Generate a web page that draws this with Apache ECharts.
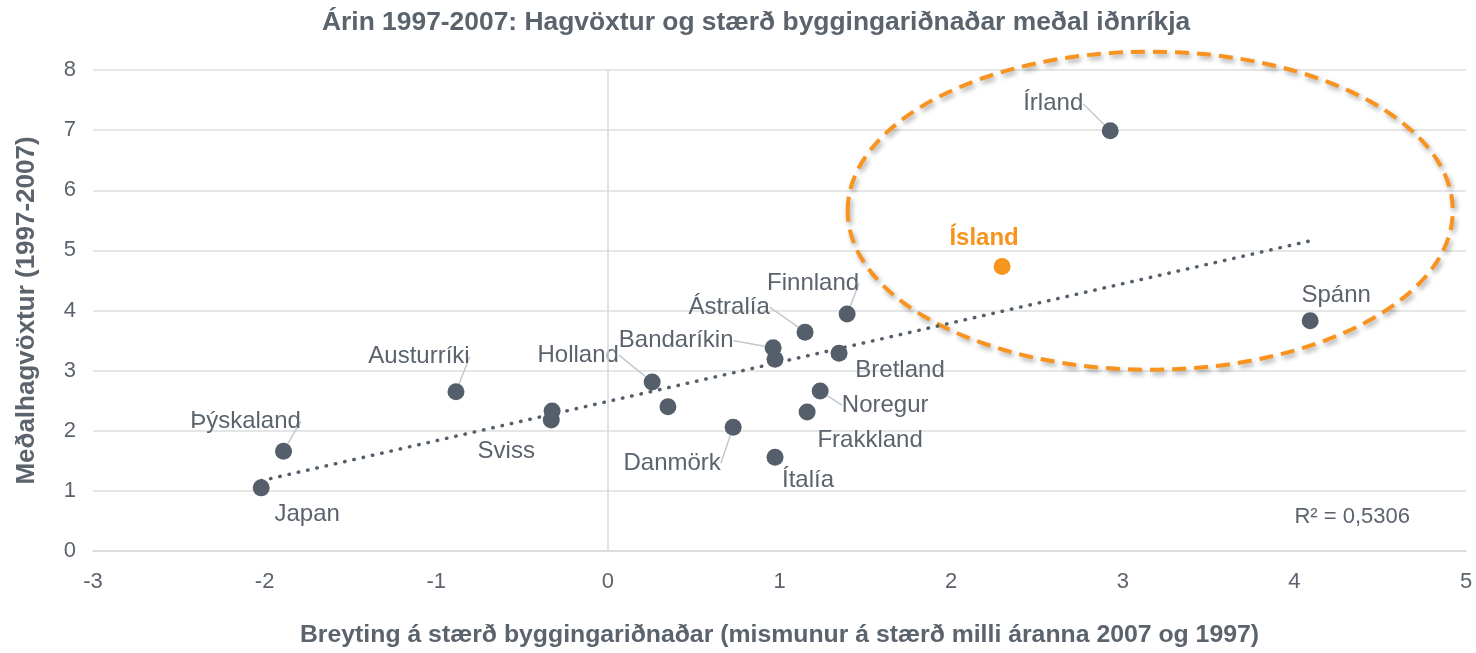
<!DOCTYPE html>
<html>
<head>
<meta charset="utf-8">
<script src="https://cdn.jsdelivr.net/npm/echarts@6/dist/echarts.min.js"></script>
<style>
  html, body { margin: 0; padding: 0; background: #fff; }
  #main { width: 1476px; height: 653px; }
</style>
</head>
<body>
<div id="main"></div>
<script>
// gögn: breyting á stærð byggingariðnaðar (x) og meðalhagvöxtur (y)
var names = ['Japan', 'Þýskaland', 'Austurríki', '', 'Sviss', 'Holland', '', 'Danmörk',
  'Bandaríkin', '', 'Ítalía', 'Ástralía', 'Frakkland', 'Noregur', 'Bretland', 'Finnland',
  'Ísland', 'Írland', 'Spánn'];
var xVals = [-2.02, -1.89, -0.885, -0.325, -0.33, 0.258, 0.35, 0.73,
  0.963, 0.974, 0.974, 1.149, 1.161, 1.237, 1.347, 1.394,
  2.297, 2.927, 4.092];
var yVals = [1.05, 1.66, 2.65, 2.33, 2.18, 2.81, 2.40, 2.06,
  3.38, 3.19, 1.56, 3.64, 2.31, 2.66, 3.29, 3.94,
  4.73, 6.99, 3.83];
var xTicks = [-3, -2, -1, 0, 1, 2, 3, 4, 5];
var yTicks = [0, 1, 2, 3, 4, 5, 6, 7, 8];
var r2Text = 'R² = 0,5306';

var textColor = '#5b636d';
var dotColor = '#555f6b';
var orange = '#f7941d';
var font = 'Liberation Sans';

// hvar merkin standa miðað við punktinn (px), og hvort leiðarlína sést
var labelPos = {
  'Japan': [46, 27, false],
  'Þýskaland': [-38, -30, true],
  'Austurríki': [-37, -35, true],
  'Sviss': [-45, 31, false],
  'Holland': [-74, -27, true],
  'Danmörk': [-61, 36, true],
  'Bandaríkin': [-97, -7, true],
  'Ítalía': [33, 23, false],
  'Ástralía': [-76, -25, true],
  'Frakkland': [63, 28, false],
  'Noregur': [65, 14, true],
  'Bretland': [61, 17, false],
  'Finnland': [-34, -31, true],
  'Ísland': [-18, -28, false],
  'Írland': [-57, -27, true],
  'Spánn': [26, -25, false]
};

// línuleg aðhvarfslína (minnstu kvaðrata)
var n = xVals.length, mx = 0, my = 0;
for (var i = 0; i < n; i++) { mx += xVals[i] / n; my += yVals[i] / n; }
var sxy = 0, sxx = 0;
for (var i = 0; i < n; i++) { sxy += (xVals[i] - mx) * (yVals[i] - my); sxx += (xVals[i] - mx) * (xVals[i] - mx); }
var slope = sxy / sxx, icept = my - slope * mx;
var xMin = Math.min.apply(null, xVals), xMax = Math.max.apply(null, xVals);
var trend = [[xMin, icept + slope * xMin], [xMax, icept + slope * xMax]];

var points = [];
for (var i = 0; i < n; i++) {
  var p = labelPos[names[i]];
  var item = {
    name: names[i],
    value: [xVals[i], yVals[i]],
    label: { show: !!names[i] },
    labelLine: { show: p ? p[2] : false }
  };
  if (names[i] === 'Ísland') {
    item.itemStyle = { color: orange };
    item.label.color = orange;
    item.label.fontWeight = 'bold';
  }
  points.push(item);
}

var chart = echarts.init(document.getElementById('main'));

var option = {
  animation: false,
  title: {
    text: 'Árin 1997-2007: Hagvöxtur og stærð byggingariðnaðar meðal iðnríkja',
    left: 317,
    top: 5,
    textStyle: { color: textColor, fontSize: 26.4, fontWeight: 'bold', fontFamily: font }
  },
  grid: { left: 93, right: 10, top: 70, bottom: 102, outerBoundsMode: 'none' },
  xAxis: {
    type: 'value',
    min: xTicks[0],
    max: xTicks[xTicks.length - 1],
    interval: 1,
    name: 'Breyting á stærð byggingariðnaðar (mismunur á stærð milli áranna 2007 og 1997)',
    nameLocation: 'middle',
    nameGap: 72,
    nameTextStyle: { color: textColor, fontSize: 24.8, fontWeight: 'bold', fontFamily: font },
    axisLine: { show: true, lineStyle: { color: '#d9d9d9', width: 1.5 } },
    axisTick: { show: false },
    splitLine: { show: false },
    axisLabel: { color: textColor, fontSize: 22, margin: 20, fontFamily: font }
  },
  yAxis: {
    type: 'value',
    min: yTicks[0],
    max: yTicks[yTicks.length - 1],
    interval: 1,
    name: 'Meðalhagvöxtur (1997-2007)',
    nameLocation: 'middle',
    nameGap: 53,
    nameRotate: 90,
    nameTextStyle: { color: textColor, fontSize: 26, fontWeight: 'bold', fontFamily: font },
    axisLine: { show: false },
    axisTick: { show: false },
    splitLine: { show: true, lineStyle: { color: '#dedede', width: 1.5 } },
    axisLabel: { color: textColor, fontSize: 22, margin: 17, fontFamily: font }
  },
  series: [
    {
      type: 'line',
      data: trend,
      symbol: 'none',
      z: 3,
      lineStyle: { color: dotColor, width: 3.5, type: [0.5, 9], cap: 'round' },
      markLine: {
        silent: true,
        symbol: 'none',
        label: { show: false },
        lineStyle: { color: '#d9d9d9', width: 1.5, type: 'solid' },
        data: [{ xAxis: 0 }]
      }
    },
    {
      type: 'scatter',
      data: points,
      symbolSize: 17,
      z: 4,
      itemStyle: { color: dotColor, opacity: 1 },
      label: {
        position: 'inside',
        formatter: '{b}',
        color: textColor,
        fontSize: 24,
        fontFamily: font
      },
      labelLine: {
        lineStyle: { color: '#c3c8cf', width: 1.5 }
      },
      labelLayout: function (params) {
        var p = labelPos[names[params.dataIndex]];
        if (!p) return {};
        return { dx: p[0], dy: p[1] };
      },
      emphasis: { disabled: true }
    }
  ]
};

chart.setOption(option);

// sporbaugur utan um Ísland, Írland og Spán (í gagnahnitum)
var ellCenter = [3.16, 5.66];
var ellRadius = [1.763, 2.645];
var c = chart.convertToPixel({ gridIndex: 0 }, ellCenter);
var e = chart.convertToPixel({ gridIndex: 0 }, [ellCenter[0] + ellRadius[0], ellCenter[1] + ellRadius[1]]);
// R² textinn neðst til hægri í teiknisvæðinu
var r2 = chart.convertToPixel({ gridIndex: 0 }, [4.0, 0.57]);
chart.setOption({
  graphic: [{
    type: 'ellipse',
    z: 2,
    silent: true,
    shape: { cx: c[0], cy: c[1], rx: e[0] - c[0], ry: c[1] - e[1] },
    style: {
      fill: null,
      stroke: '#f7931e',
      lineWidth: 4,
      lineDash: [14, 8],
      shadowBlur: 5,
      shadowColor: 'rgba(0,0,0,0.35)',
      shadowOffsetX: 2,
      shadowOffsetY: 3
    }
  }, {
    type: 'text',
    z: 5,
    silent: true,
    x: r2[0],
    y: r2[1],
    style: {
      text: r2Text,
      fill: textColor,
      fontSize: 22,
      fontFamily: font,
      verticalAlign: 'middle',
      align: 'left'
    }
  }]
});
</script>
</body>
</html>
